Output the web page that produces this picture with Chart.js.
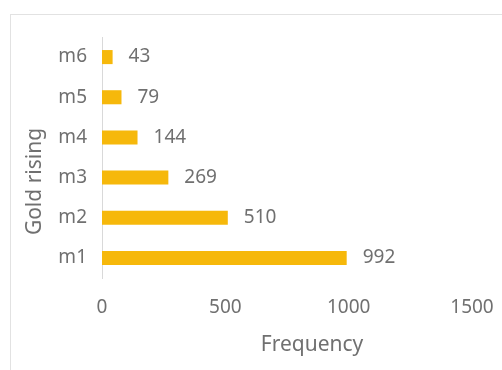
<!DOCTYPE html>
<html>
<head>
<meta charset="utf-8">
<script src="https://cdn.jsdelivr.net/npm/chart.js@4"></script>
<style>
    html, body { margin: 0; padding: 0; background: #fff; overflow: hidden; }
    .frame { position: absolute; left: 10px; top: 14px; width: 600px; height: 500px; border: 1px solid #e2e2e2; }
    .wrap { position: absolute; left: 0; top: 0; width: 502px; height: 370px; }
</style>
</head>
<body>
<div class="frame"></div>
<div class="wrap"><canvas id="barChart"></canvas></div>
<script>
// Gold rising - frequency per level
const categories = ["m1", "m2", "m3", "m4", "m5", "m6"];
const frequency = [992, 510, 269, 144, 79, 43];
const xTicks = [0, 500, 1000, 1500];

const textColor = "#707070";
const fontFamily = "'Noto Sans', sans-serif";

// value printed to the right of every bar, plus both axis titles
const valueLabels = {
    id: 'valueLabels',
    afterDatasetsDraw(chart) {
        const ctx = chart.ctx;
        const meta = chart.getDatasetMeta(0);
        const area = chart.chartArea;
        ctx.save();
        ctx.fillStyle = textColor;
        ctx.font = "19px " + fontFamily;
        ctx.textAlign = 'left';
        ctx.textBaseline = 'middle';
        meta.data.forEach((bar, i) => {
            ctx.fillText(frequency[i], bar.x + 16, bar.y);
        });

        ctx.font = "21px " + fontFamily;
        ctx.textAlign = 'center';
        ctx.fillText("Frequency", (area.left + area.right) / 2 + 25, 345);

        ctx.translate(35, (area.top + area.bottom) / 2 + 24);
        ctx.rotate(-Math.PI / 2);
        ctx.fillText("Gold rising", 0, 0);
        ctx.restore();
    }
};

const barChart = new Chart(document.getElementById("barChart"), {
    type: 'bar',
    data: {
        labels: categories,
        datasets: [{
            label: "Frequency",
            data: frequency,
            backgroundColor: "#f6b80b",
            categoryPercentage: 1,
            barPercentage: 0.35
        }]
    },
    options: {
        indexAxis: 'y',
        responsive: true,
        maintainAspectRatio: false,
        animation: false,
        layout: { padding: { top: 37, right: 0 } },
        plugins: {
            legend: { display: false },
            tooltip: { enabled: false }
        },
        scales: {
            x: {
                min: 0,
                max: 1500,
                afterBuildTicks: (scale) => { scale.ticks = xTicks.map(v => ({ value: v })); },
                grid: { display: false, drawTicks: false },
                border: { display: false },
                ticks: {
                    color: textColor,
                    font: { family: fontFamily, size: 19 },
                    padding: 18,
                    maxRotation: 0,
                    callback: (v) => String(v)
                },
                afterFit: (scale) => {
                    scale.height = 92;
                    scale.paddingRight = 30;
                    scale.paddingLeft = 0;
                }
            },
            y: {
                reverse: true,
                grid: { display: false, drawTicks: false },
                border: { display: true, color: "#d9d9d9", width: 1 },
                ticks: { color: textColor, font: { family: fontFamily, size: 19 }, padding: 15 },
                afterFit: (scale) => { scale.width = 102; }
            }
        }
    },
    plugins: [valueLabels]
});
</script>
</body>
</html>
